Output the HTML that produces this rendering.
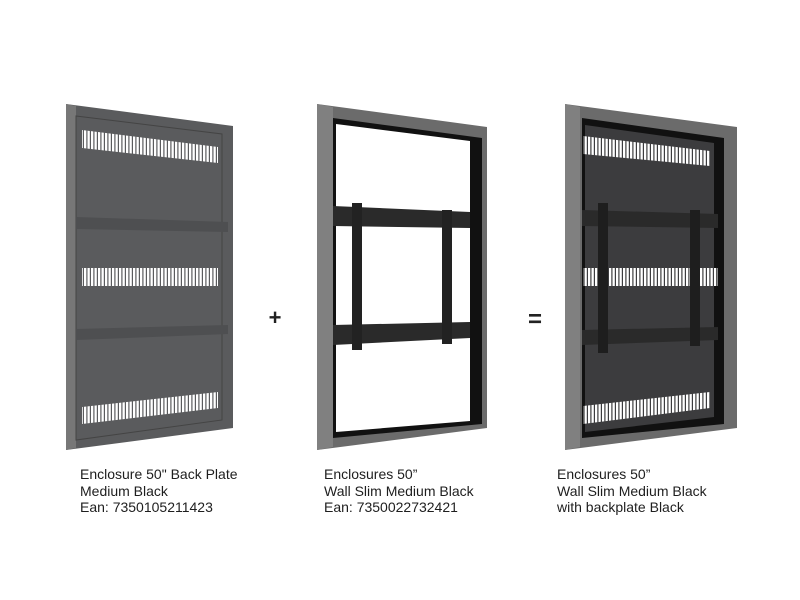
<!DOCTYPE html>
<html><head><meta charset="utf-8"><style>
html,body{margin:0;padding:0;background:#fff;width:800px;height:600px;overflow:hidden}
.t{position:absolute;font-family:"Liberation Sans",sans-serif;font-size:14px;line-height:16.5px;color:#1e1e1e}
</style></head><body>
<svg width="800" height="600" style="position:absolute;left:0;top:0">
<defs>
<pattern id="sl" patternUnits="userSpaceOnUse" width="3.5" height="10"><rect x="0" y="0" width="2.3" height="10" fill="#fff"/></pattern>
</defs>
<polygon points="66,104 233,126 233,428 66,450" fill="#5a5b5d"/>
<polygon points="66,104 76,106 76,448 66,450" fill="#777"/>
<polygon points="76,116 222,134 222,420 76,440" fill="none" stroke="#444" stroke-width="1"/>
<polygon points="76,217 228,222 228,232 76,229" fill="#4e4f51"/>
<polygon points="76,329 228,325 228,334 76,340" fill="#4e4f51"/>
<polygon points="82,130 218,147 218,163 82,148" fill="url(#sl)"/>
<polygon points="82,268 218,268 218,286 82,286" fill="url(#sl)"/>
<polygon points="82,407 218,392 218,408 82,424" fill="url(#sl)"/>
<polygon points="317,104 487,127 487,428 317,450" fill="#6b6b6b"/>
<polygon points="317,104 333,107 333,447 317,450" fill="#808080"/>
<polygon points="333,118 482,138 482,424 333,438" fill="#111"/>
<polygon points="336,124 470,141 470,421 336,432" fill="#fff"/>
<polygon points="333,206 470,212 470,228 333,226" fill="#2a2a2a"/>
<polygon points="333,325 470,322 470,338 333,345" fill="#2a2a2a"/>
<rect x="352" y="203" width="10" height="147" fill="#222"/>
<rect x="442" y="210" width="10" height="134" fill="#222"/>
<polygon points="565,104 737,127 737,428 565,450" fill="#6b6b6b"/>
<polygon points="565,104 580,107 580,447 565,450" fill="#808080"/>
<polygon points="582,118 724,138 724,424 582,438" fill="#111"/>
<polygon points="585,125 714,143 714,417 585,432" fill="#3c3c3e"/>
<polygon points="583,136 710,151 710,166 583,154" fill="url(#sl)"/>
<polygon points="583,268 718,268 718,286 583,286" fill="url(#sl)"/>
<polygon points="583,406 710,392 710,408 583,424" fill="url(#sl)"/>
<polygon points="582,210 718,214 718,228 582,226" fill="#2a2a2a"/>
<polygon points="582,330 718,327 718,340 582,345" fill="#2a2a2a"/>
<rect x="598" y="203" width="10" height="150" fill="#1e1e1e"/>
<rect x="690" y="210" width="10" height="136" fill="#1e1e1e"/>
<text x="275" y="325" font-family="Liberation Sans" font-weight="bold" font-size="22" fill="#222" text-anchor="middle">+</text>
<text x="535" y="327" font-family="Liberation Sans" font-weight="bold" font-size="24" fill="#222" text-anchor="middle">=</text>
</svg>
<div class="t" style="left:80px;top:466px">Enclosure 50" Back Plate<br>Medium Black<br>Ean: 7350105211423</div>
<div class="t" style="left:324px;top:466px">Enclosures 50”<br>Wall Slim Medium Black<br>Ean: 7350022732421</div>
<div class="t" style="left:557px;top:466px">Enclosures 50”<br>Wall Slim Medium Black<br>with backplate Black</div>
</body></html>
